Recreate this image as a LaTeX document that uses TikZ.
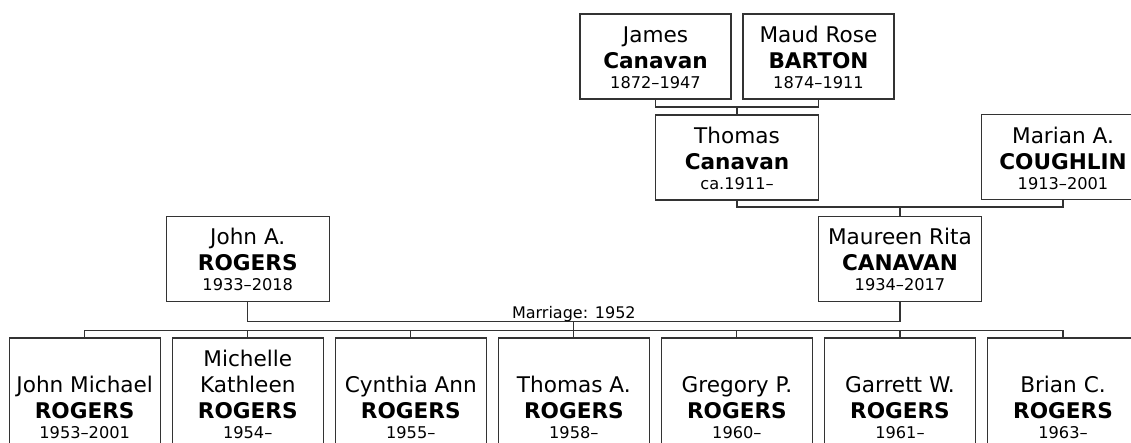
\documentclass[tikz,border=0pt]{standalone}
\usepackage{fontspec}
\setmainfont{DejaVu Sans}
\tikzset{
  pbox/.style={draw=black!80, line width=1.1pt, inner sep=0pt, minimum height=85pt},
  narrowbox/.style={pbox, minimum width=151pt},
  widebox/.style={pbox, minimum width=163pt},
  kidbox/.style={pbox, minimum width=151pt, minimum height=111pt},
  ptext/.style={anchor=south, inner sep=0pt, align=center, font=\fontsize{21.6}{26}\selectfont, text=black},
  conn/.style={draw=black!80, line width=1.1pt},
  mlabel/.style={anchor=base, inner sep=0pt, font=\fontsize{16}{16}\selectfont, text=black}
}
\newcommand\dt[1]{\\[-6pt]{\fontsize{16.2}{16}\selectfont #1}}
\begin{document}
\begin{tikzpicture}[x=1pt,y=-1pt]
\useasboundingbox (0,0) rectangle (1131,443);
\clip (0,0) rectangle (1131,443);
% row 1
\node[narrowbox] (jc) at (655.5,56.5) {};
\node[narrowbox] (mb) at (818.5,56.5) {};
% row 2
\node[widebox] (tc) at (737,157.5) {};
\node[widebox] (mc) at (1063,157) {};
% row 3
\node[widebox] (ja) at (247.75,258.75) {};
\node[widebox] (mr) at (900,258.75) {};
% row 4
\node[kidbox] (c1) at (84.7,393.5) {};
\node[kidbox] (c2) at (247.75,393.5) {};
\node[kidbox] (c3) at (410.8,393.5) {};
\node[kidbox] (c4) at (573.85,393.5) {};
\node[kidbox] (c5) at (736.9,393.5) {};
\node[kidbox] (c6) at (899.95,393.5) {};
\node[kidbox] (c7) at (1063,393.5) {};
% texts
\node[ptext] (jct) at ([yshift=10.5pt]jc.south) {James\\\textbf{Canavan}\dt{1872–1947}};
\node[ptext] (mbt) at ([yshift=10.5pt]mb.south) {Maud Rose\\\textbf{BARTON}\dt{1874–1911}};
\node[ptext] (tct) at ([yshift=10.5pt]tc.south) {Thomas\\\textbf{Canavan}\dt{ca.1911–}};
\node[ptext] (mct) at ([yshift=10.5pt]mc.south) {Marian A.\\\textbf{COUGHLIN}\dt{1913–2001}};
\node[ptext] (jat) at ([yshift=10.5pt]ja.south) {John A.\\\textbf{ROGERS}\dt{1933–2018}};
\node[ptext] (mrt) at ([yshift=10.5pt]mr.south) {Maureen Rita\\\textbf{CANAVAN}\dt{1934–2017}};
\node[ptext] (c1t) at ([yshift=10.5pt]c1.south) {John Michael\\\textbf{ROGERS}\dt{1953–2001}};
\node[ptext] (c2t) at ([yshift=10.5pt]c2.south) {Michelle\\Kathleen\\\textbf{ROGERS}\dt{1954–}};
\node[ptext] (c3t) at ([yshift=10.5pt]c3.south) {Cynthia Ann\\\textbf{ROGERS}\dt{1955–}};
\node[ptext] (c4t) at ([yshift=10.5pt]c4.south) {Thomas A.\\\textbf{ROGERS}\dt{1958–}};
\node[ptext] (c5t) at ([yshift=10.5pt]c5.south) {Gregory P.\\\textbf{ROGERS}\dt{1960–}};
\node[ptext] (c6t) at ([yshift=10.5pt]c6.south) {Garrett W.\\\textbf{ROGERS}\dt{1961–}};
\node[ptext] (c7t) at ([yshift=10.5pt]c7.south) {Brian C.\\\textbf{ROGERS}\dt{1963–}};
% connectors
\coordinate (m1) at (737,107);
\coordinate (m2) at (900,207);
\coordinate (m3) at (573.85,321.5);
\coordinate (bus) at (573.85,330.5);
\draw[conn] (jc.south) |- (m1) -| (mb.south);
\draw[conn] (m1) -- (tc.north);
\draw[conn] (tc.south) |- (m2) -| (mc.south);
\draw[conn] (m2) -- (mr.north);
\draw[conn] (ja.south) |- (m3) -| (mr.south);
\draw[conn] (m3) -- (c4.north);
\draw[conn] (c1.north) |- (bus) -| (c7.north);
\draw[conn] (c2.north) -- (c2.north |- bus);
\draw[conn] (c3.north) -- (c3.north |- bus);
\draw[conn] (c5.north) -- (c5.north |- bus);
\draw[conn] (c6.north) -- (c6.north |- bus);
\node[mlabel] (ml) at ([yshift=3.2pt]m3) {Marriage: 1952};
\end{tikzpicture}
\end{document}
